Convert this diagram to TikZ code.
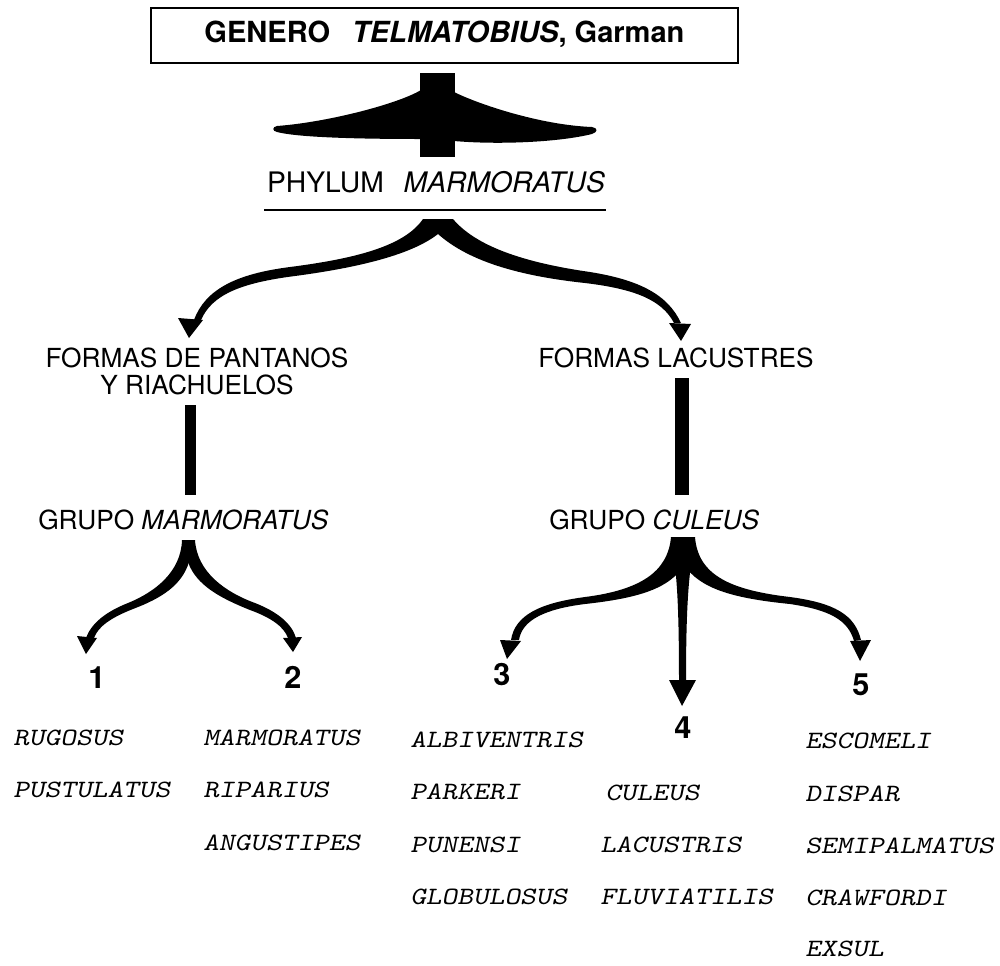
\documentclass[tikz,border=0pt]{standalone}
\usepackage{fontspec}
\setmainfont{TeX Gyre Heros}
\newfontfamily\specfont{lmmonoslant10-regular}[Extension=.otf,FakeStretch=1.2]
\begin{document}
\begin{tikzpicture}[x=0.75pt,y=-0.75pt,
  ink/.style={fill=black,draw=none},
  ttl/.style={font=\bfseries\fontsize{21.8}{24}\selectfont,inner sep=0pt},
  big/.style={font=\fontsize{21.2}{24}\selectfont,inner sep=0pt},
  lab/.style={font=\fontsize{19.7}{20.25}\selectfont,inner sep=0pt},
  num/.style={font=\bfseries\fontsize{23}{24}\selectfont,inner sep=0pt,anchor=base},
  sp/.style={font=\specfont\fontsize{18.7}{20}\selectfont,inner sep=0pt,anchor=base west}]
\useasboundingbox (0,0) rectangle (1000,965);
% title box
\draw[line width=0.9pt] (151,8) rectangle (738,63);
\node[ttl,anchor=base] (genus) at (444.5,42) {GENERO\hspace{0.75em}\textit{TELMATOBIUS}, Garman};
% top merge symbol
\fill[ink] (420,73) rectangle (455,157);
\fill[ink] (421,90) .. controls (400,103) and (330,122) .. (277,126) .. controls (272,127) and (272,131) .. (277,132) .. controls (300,138) and (370,139) .. (421,139) -- cycle;
\fill[ink] (454,92) .. controls (478,104) and (540,125) .. (592,127) .. controls (598,128) and (598,132) .. (592,134) .. controls (560,142) and (500,145) .. (454,141) -- cycle;
% phylum
\node[big,anchor=base] (phylum) at (436,192) {PHYLUM\hspace{0.7em}\textit{MARMORATUS}};
\draw[line width=0.9pt] (264,210) -- (606,210);
% split phylum -> formas
\fill[ink] (423,219) -- (453,219)
  .. controls (475,245) and (520,262) .. (590,272)
  .. controls (640,280) and (668,295) .. (681,323) -- (674,323)
  .. controls (662,300) and (635,289) .. (585,283)
  .. controls (510,275) and (465,258) .. (438,234)
  .. controls (415,252) and (370,266) .. (295,276)
  .. controls (240,283) and (212,295) .. (201,320) -- (194,320)
  .. controls (205,290) and (235,274) .. (290,267)
  .. controls (360,258) and (405,245) .. (423,219) -- cycle;
\fill[ink] (178,318) -- (203,320) -- (189,338) -- cycle;
\fill[ink] (669,323) -- (691,324) -- (681,341) -- cycle;
% formas
\node[lab,anchor=north,align=center] (pantanos) at (197,348) {FORMAS DE PANTANOS\\Y RIACHUELOS};
\node[lab,anchor=base west] (lacustres) at (538,367) {FORMAS LACUSTRES};
\fill[ink] (185,405) rectangle (196,495);
\fill[ink] (675,378) rectangle (689,495);
% grupos
\node[lab,anchor=base west] (gmarm) at (38,529) {GRUPO \textit{MARMORATUS}};
\node[lab,anchor=base west] (gcul) at (549,529) {GRUPO \textit{CULEUS}};
% split grupo marmoratus
\fill[ink] (182,540) .. controls (181,572) and (155,592) .. (128,603)
  .. controls (105,612) and (91,624) .. (86,638) -- (94,638)
  .. controls (98,627) and (110,618) .. (133,609)
  .. controls (162,598) and (182,585) .. (189,562) -- (189,540) -- cycle;
\fill[ink] (195,540) .. controls (197,572) and (225,592) .. (255,603)
  .. controls (278,612) and (292,624) .. (296,638) -- (288,638)
  .. controls (284,627) and (272,618) .. (250,610)
  .. controls (220,598) and (196,585) .. (188,562) -- (188,540) -- cycle;
\fill[ink] (77,636) -- (97,638) -- (86,654) -- cycle;
\fill[ink] (283,638) -- (302,637) -- (293,652) -- cycle;
% split grupo culeus
\fill[ink] (671,537) .. controls (668,572) and (640,590) .. (585,597)
  .. controls (540,603) and (515,615) .. (511,640) -- (519,640)
  .. controls (522,620) and (545,609) .. (585,604)
  .. controls (640,598) and (670,588) .. (684,565) -- (684,537) -- cycle;
\fill[ink] (695,537) .. controls (698,575) and (730,590) .. (790,597)
  .. controls (835,603) and (855,615) .. (861,640) -- (854,641)
  .. controls (848,620) and (830,610) .. (790,604)
  .. controls (730,598) and (700,588) .. (684,565) -- (684,537) -- cycle;
\fill[ink] (671,537) -- (695,537) .. controls (690,570) and (686,590) .. (686,682)
  -- (679,682) .. controls (679,590) and (676,570) .. (671,537) -- cycle;
\fill[ink] (500,640) -- (521,641) -- (507,659) -- cycle;
\fill[ink] (850,641) -- (871,640) -- (860,661) -- cycle;
\fill[ink] (669,680) -- (696,680) -- (682,706) -- cycle;
% numbers
\node[num] (n1) at (97,688) {1};
\node[num] (n2) at (293,688) {2};
\node[num] (n3) at (502,685) {3};
\node[num] (n4) at (683,738) {4};
\node[num] (n5) at (861,695) {5};
% species
\node[sp] (s11) at (13,745) {RUGOSUS};
\node[sp] (s12) at (13,797) {PUSTULATUS};
\node[sp] (s21) at (203,745) {MARMORATUS};
\node[sp] (s22) at (203,797) {RIPARIUS};
\node[sp] (s23) at (203,850) {ANGUSTIPES};
\node[sp] (s31) at (410,747) {ALBIVENTRIS};
\node[sp] (s32) at (410,799) {PARKERI};
\node[sp] (s33) at (410,852) {PUNENSI};
\node[sp] (s34) at (410,904) {GLOBULOSUS};
\node[sp] (s42) at (605,800) {CULEUS};
\node[sp] (s43) at (600,852) {LACUSTRIS};
\node[sp] (s44) at (600,904) {FLUVIATILIS};
\node[sp] (s51) at (805,748) {ESCOMELI};
\node[sp] (s52) at (805,801) {DISPAR};
\node[sp] (s53) at (805,853) {SEMIPALMATUS};
\node[sp] (s54) at (805,905) {CRAWFORDI};
\node[sp] (s55) at (805,956) {EXSUL};
\end{tikzpicture}
\end{document}
